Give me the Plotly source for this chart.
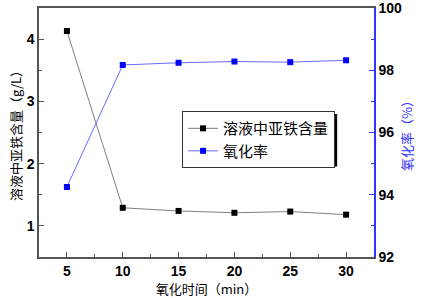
import plotly.graph_objects as go

time_min = [5, 10, 15, 20, 25, 30]
fe_content = [4.13, 1.29, 1.24, 1.21, 1.23, 1.18]
oxidation_rate = [94.25, 98.17, 98.24, 98.28, 98.26, 98.32]

name_fe = "溶液中亚铁含量"
name_ox = "氧化率"

fig = go.Figure()
fig.add_trace(go.Scatter(x=time_min, y=fe_content, name=name_fe, mode="lines+markers",
                         line=dict(color="#7f7f7f", width=1),
                         marker=dict(symbol="square", size=6, color="black")))
fig.add_trace(go.Scatter(x=time_min, y=oxidation_rate, name=name_ox, mode="lines+markers",
                         yaxis="y2",
                         line=dict(color="#6a6aff", width=1),
                         marker=dict(symbol="square", size=6, color="#0000ff")))

tickfont = dict(family="Liberation Sans, Arial", size=14, color="black", weight="bold")
titlefont = dict(family="Noto Sans CJK SC", size=13, color="black")

fig.update_layout(
    width=425, height=298,
    margin=dict(l=39, r=51, t=8, b=41),
    paper_bgcolor="white", plot_bgcolor="white",
    showlegend=True,
    legend=dict(x=0.427, y=0.586, xanchor="left", yanchor="top",
                bgcolor="white", bordercolor="#333333", borderwidth=1,
                font=dict(family="Noto Sans CJK SC", size=15, color="black"),
                tracegroupgap=0),
    xaxis=dict(range=[2.5, 32.5], tickvals=[5, 10, 15, 20, 25, 30],
               ticks="inside", ticklen=5, tickcolor="#555555",
               minor=dict(ticks="inside", ticklen=3, tickcolor="#555555", dtick=2.5, tick0=2.5),
               showline=True, linecolor="#555555", linewidth=1.5, mirror=True,
               showgrid=False, zeroline=False, automargin=False,
               tickfont=tickfont,
               title=dict(text="氧化时间（min）", font=titlefont, standoff=4)),
    yaxis=dict(range=[0.5, 4.5], tickvals=[1, 2, 3, 4],
               ticks="inside", ticklen=5, tickcolor="#555555",
               minor=dict(ticks="inside", ticklen=3, tickcolor="#555555", dtick=0.5, tick0=0.5),
               showline=True, linecolor="#555555", linewidth=1.5,
               showgrid=False, zeroline=False, automargin=False,
               tickfont=tickfont,
               title=dict(text="溶液中亚铁含量（g/L）", font=titlefont, standoff=2)),
    yaxis2=dict(range=[92, 100], tickvals=[92, 94, 96, 98, 100],
                overlaying="y", side="right",
                ticks="inside", ticklen=5, tickcolor="#3333ff",
                minor=dict(ticks="inside", ticklen=3, tickcolor="#3333ff", dtick=1, tick0=92),
                showline=True, linecolor="#3333ff", linewidth=1.5,
                showgrid=False, zeroline=False, automargin=False,
                ticklabeloverflow="allow",
                tickfont=tickfont,
                title=dict(text="氧化率（%）", font=dict(family="Noto Sans CJK SC", size=13, color="#3333ff"), standoff=2)),
    shapes=[dict(type="rect", xref="paper", yref="paper",
                 x0=0.436, x1=0.890, y0=0.363, y1=0.574,
                 fillcolor="black", line=dict(width=0), layer="above")],
)

fig.write_html("out.html", config={"displayModeBar": False},
               post_script="document.body.style.margin='0';document.body.style.overflow='hidden';")
